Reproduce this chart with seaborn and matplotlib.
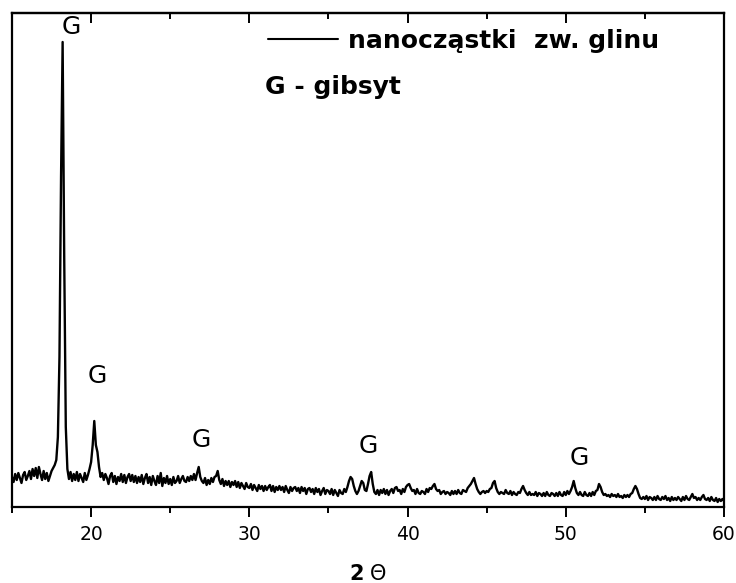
import numpy as np
import matplotlib
matplotlib.use("Agg")
import matplotlib.pyplot as plt
from matplotlib.ticker import MultipleLocator
import seaborn as sns

# ---- data: XRD scan, 2-theta from 15 to 60 deg, step 0.1 ----
two_theta = np.round(np.arange(15.0, 60.0001, 0.1), 1)
intensity = [
    30, 25, 33, 27, 34, 29, 24, 32, 35, 27,   # 15
    31, 36, 28, 38, 31, 39, 29, 40, 33, 27,   # 16
    36, 28, 34, 26, 31, 36, 39, 42, 47, 70,   # 17
    150, 330, 465, 250, 80, 38, 28, 35, 26, 33,  # 18
    27, 35, 26, 33, 29, 25, 34, 27, 32, 38,   # 19
    45, 62, 86, 62, 55, 40, 30, 34, 27, 33,   # 20
    29, 23, 31, 34, 25, 31, 23, 30, 26, 33,   # 21
    25, 32, 24, 30, 33, 26, 32, 25, 31, 24,   # 22
    30, 25, 32, 23, 29, 33, 24, 30, 22, 31,   # 23
    26, 22, 31, 24, 34, 21, 29, 24, 31, 23,   # 24
    28, 22, 30, 24, 26, 31, 24, 28, 31, 26,   # 25
    25, 30, 26, 31, 27, 33, 27, 34, 40, 30,   # 26
    26, 24, 29, 22, 27, 23, 29, 25, 30, 31,   # 27
    36, 27, 23, 28, 21, 26, 22, 26, 20, 25,   # 28
    22, 26, 20, 25, 19, 24, 21, 18, 24, 20,   # 29
    19, 23, 17, 22, 19, 16, 22, 18, 21, 16,   # 30
    21, 17, 20, 22, 16, 21, 15, 20, 17, 21,   # 31
    17, 20, 15, 21, 17, 14, 20, 16, 19, 20,   # 32
    16, 19, 14, 20, 16, 19, 13, 18, 19, 15,   # 33
    18, 13, 19, 15, 18, 12, 16, 19, 13, 17,   # 34
    16, 13, 18, 12, 17, 14, 11, 17, 14, 13,   # 35
    18, 15, 20, 26, 30, 28, 21, 16, 13, 16,   # 36
    21, 26, 24, 17, 16, 23, 31, 35, 23, 15,   # 37
    13, 17, 12, 17, 14, 18, 13, 17, 12, 16,   # 38
    18, 14, 19, 20, 16, 17, 13, 18, 15, 20,   # 39
    22, 23, 19, 16, 17, 13, 18, 14, 13, 16,   # 40
    15, 13, 18, 15, 19, 18, 21, 23, 18, 16,   # 41
    17, 13, 15, 16, 13, 15, 14, 12, 16, 13,   # 42
    16, 13, 17, 14, 13, 17, 16, 15, 19, 21,   # 43
    23, 26, 29, 23, 18, 15, 13, 15, 16, 14,   # 44
    16, 15, 18, 19, 24, 26, 19, 15, 13, 15,   # 45
    14, 13, 17, 14, 13, 16, 12, 15, 13, 12,   # 46
    15, 14, 18, 21, 17, 14, 12, 15, 12, 13,   # 47
    12, 15, 11, 14, 13, 11, 14, 11, 15, 12,   # 48
    11, 14, 13, 11, 14, 11, 15, 12, 11, 15,   # 49
    12, 16, 13, 16, 20, 26, 19, 14, 12, 15,   # 50
    12, 11, 15, 12, 11, 14, 11, 15, 12, 16,   # 51
    17, 23, 20, 15, 12, 13, 11, 12, 10, 13,   # 52
    11, 12, 10, 13, 10, 11, 9, 12, 10, 12,    # 53
    10, 13, 14, 18, 21, 18, 13, 9, 8, 10,     # 54
    8, 11, 7, 10, 9, 7, 10, 7, 11, 8,         # 55
    7, 10, 8, 11, 7, 9, 6, 10, 7, 9,          # 56
    7, 10, 8, 6, 10, 7, 11, 8, 7, 10,         # 57
    13, 9, 10, 7, 9, 7, 10, 12, 8, 7,         # 58
    9, 6, 10, 7, 6, 9, 5, 8, 6, 8,            # 59
    6,                                        # 60
]
series_label = "nanocząstki  zw. glinu"
x_ticks = [20, 30, 40, 50, 60]
x_tick_labels = ["20", "30", "40", "50", "60"]

# peak annotations ("G" = gibbsite)
peak_label_x = [18.73, 20.38, 26.96, 37.53, 50.82]
peak_label_y = [480, 131, 67, 61, 49]
peak_label_text = ["G", "G", "G", "G", "G"]
note_text = "G - gibsyt"

# ---- plotting ----
sns.set_style("ticks")
plt.rcParams["font.family"] = ["DejaVu Sans"]
plt.rcParams["text.color"] = "black"
plt.rcParams["axes.labelcolor"] = "black"
plt.rcParams["xtick.color"] = "black"
plt.rcParams["axes.edgecolor"] = "black"

W, H = 736, 583
fig = plt.figure(figsize=(W / 100, H / 100), dpi=100)
ax = fig.add_axes([12 / W, 1 - 507 / H, (724 - 12) / W, (507 - 13) / H])

sns.lineplot(x=two_theta, y=intensity, ax=ax, color="black", linewidth=1.7,
             label=series_label, estimator=None, sort=False)

ax.set_xlim(15, 60)
ax.set_ylim(0, 494)
ax.set_yticks([])
ax.set_ylabel("")
ax.xaxis.set_major_locator(MultipleLocator(10))
ax.xaxis.set_minor_locator(MultipleLocator(5))
ax.set_xticks(x_ticks)
ax.set_xticklabels(x_tick_labels)
ax.tick_params(axis="x", which="major", direction="out", length=7, width=1.4,
               labelsize=13.5, pad=6, colors="black")
ax.tick_params(axis="x", which="minor", direction="out", length=4.5, width=1.4)
for s in ax.spines.values():
    s.set_visible(True)
    s.set_linewidth(1.6)
    s.set_color("black")

top = ax.secondary_xaxis("top", functions=(lambda v: v, lambda v: v))
top.xaxis.set_major_locator(MultipleLocator(10))
top.xaxis.set_minor_locator(MultipleLocator(5))
top.tick_params(axis="x", which="major", direction="in", length=7, width=1.4,
                labeltop=False)
top.tick_params(axis="x", which="minor", direction="in", length=4, width=1.4)
top.spines["top"].set_linewidth(1.6)

ax.set_xlabel(r"$\mathbf{2}\;\Theta$", fontsize=15, labelpad=14, color="black")

for px, py, t in zip(peak_label_x, peak_label_y, peak_label_text):
    ax.text(px, py, t, fontsize=18, ha="center", va="center", color="black")

leg = ax.legend(loc="upper left", bbox_to_anchor=((268 - 12) / 712, (507 - 29) / 494),
                frameon=False, borderpad=0, borderaxespad=0, handlelength=2.8,
                handletextpad=0.4, prop={"size": 18, "weight": "bold"})
for h in leg.get_lines():
    h.set_linewidth(1.5)
for t in leg.get_texts():
    t.set_color("black")

ax.text((265 - 12) / 712, (507 - 94) / 494, note_text, transform=ax.transAxes,
        fontsize=18, fontweight="bold", va="baseline", ha="left", color="black")

fig.savefig("out.png", dpi=100)
